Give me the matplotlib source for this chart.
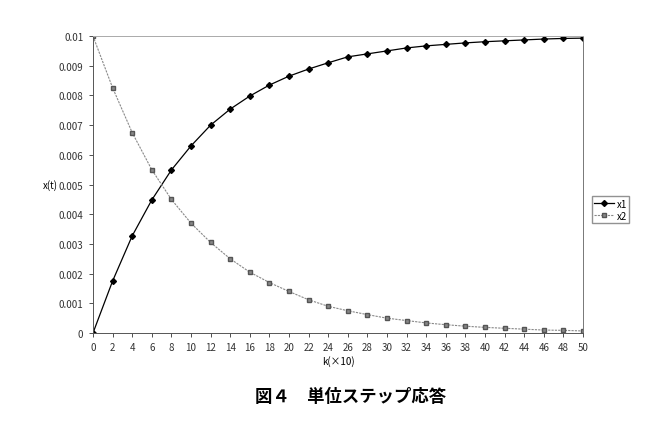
import matplotlib
matplotlib.use("Agg")
import matplotlib.pyplot as plt

plt.rcParams['font.family'] = ['Noto Sans CJK JP', 'DejaVu Sans']

k = list(range(0, 51, 2))
x1 = [0.0, 0.00175, 0.00327, 0.00448, 0.00549, 0.0063, 0.0070, 0.00754, 0.00798, 0.00835,
      0.00865, 0.00889, 0.0091, 0.0093, 0.0094, 0.0095, 0.0096, 0.00967, 0.00972, 0.00977,
      0.00981, 0.00984, 0.00987, 0.0099, 0.00992, 0.00993]
x2 = [0.01, 0.00826, 0.00675, 0.0055, 0.0045, 0.0037, 0.00305, 0.0025, 0.00205, 0.0017,
      0.0014, 0.00112, 0.0009, 0.00075, 0.00062, 0.0005, 0.00042, 0.00034, 0.00028, 0.00023,
      0.00019, 0.00016, 0.00013, 0.0001, 0.00009, 0.00007]
yticks = [0, 0.001, 0.002, 0.003, 0.004, 0.005, 0.006, 0.007, 0.008, 0.009, 0.01]
ylabels = ["0", "0.001", "0.002", "0.003", "0.004", "0.005", "0.006", "0.007", "0.008", "0.009", "0.01"]

fig = plt.figure(figsize=(6.67, 4.31), dpi=100)
ax = fig.add_axes([0.1394, 0.225, 0.7346, 0.689])

ax.plot(k, x1, color="black", lw=0.9, marker="D", ms=3, label="x1")
ax.plot(k, x2, color="#888888", lw=0.8, ls=(0, (2, 1)), marker="s", ms=3.5,
        mfc="#888888", mec="#555555", label="x2")

ax.set_xlim(0, 50)
ax.set_ylim(0, 0.01)
ax.set_xticks(k)
ax.set_yticks(yticks)
ax.set_yticklabels(ylabels)
ax.tick_params(labelsize=7, length=3, width=0.6, direction="out", colors="#333333")
ax.tick_params(axis="y", pad=4)
for s in ax.spines.values():
    s.set_linewidth(0.7)
ax.spines["left"].set_color("#555555")
ax.spines["bottom"].set_color("#555555")
ax.spines["right"].set_color("#777777")
ax.spines["top"].set_color("#aaaaaa")
ax.set_xlabel("k(×10)", fontsize=7, labelpad=2)
ax.set_ylabel("x(t)", fontsize=7, rotation=0, va="center", ha="center")
ax.yaxis.set_label_coords(-0.088, 0.5)

ax.legend(loc="center left", bbox_to_anchor=(1.012, 0.415), fontsize=7, frameon=True,
          fancybox=False, edgecolor="#777777", handlelength=2.0, borderpad=0.25,
          labelspacing=0.2, handletextpad=0.3, borderaxespad=0.3)

fig.text(0.525, 0.078, "図４　単位ステップ応答", ha="center", va="center",
         fontsize=12.5, fontweight="bold")

fig.savefig("out.png", dpi=100)
